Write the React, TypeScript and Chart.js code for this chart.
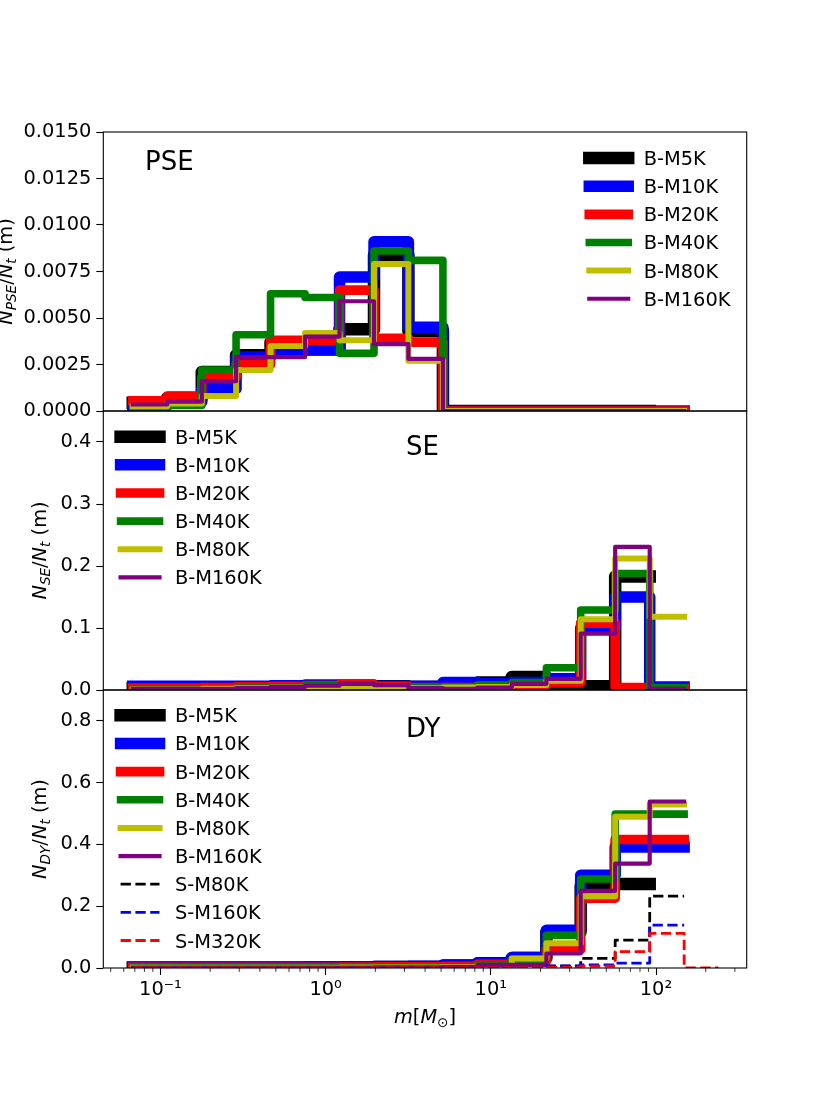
import React, { useEffect, useRef } from 'react';
import Chart from 'chart.js/auto';

// mass bin edges [Msun]; B-M5K stops one bin earlier, S-M320K goes one bin further
const binEdges = [0.068, 0.11, 0.178, 0.287, 0.464, 0.751, 1.214, 1.963, 3.17, 5.13, 8.3, 13.4, 21.7, 35.0, 56.6, 91.6, 148, 239];

const runLabels = ['B-M5K', 'B-M10K', 'B-M20K', 'B-M40K', 'B-M80K', 'B-M160K'];
const singleLabels = ['S-M80K', 'S-M160K', 'S-M320K'];

// PSE fraction per mass bin
const pseM5K = [0.00045, 0.0007, 0.0021, 0.003, 0.0037, 0.0033, 0.0044, 0.0084, 0.0043, 0, 0, 0, 0, 0, 0];
const pseM10K = [0.0003, 0.0005, 0.0012, 0.0029, 0.0033, 0.0033, 0.0072, 0.0091, 0.0045, 0, 0, 0, 0, 0, 0, 0];
const pseM20K = [0.00055, 0.0008, 0.0018, 0.0025, 0.0038, 0.0038, 0.0065, 0.0039, 0.0037, 0, 0, 0, 0, 0, 0, 0];
const pseM40K = [0.0002, 0.0003, 0.0022, 0.0041, 0.0063, 0.0061, 0.0031, 0.0086, 0.0081, 0, 0, 0, 0, 0, 0, 0];
const pseM80K = [0.00025, 0.0004, 0.0008, 0.0022, 0.0035, 0.0042, 0.0038, 0.0079, 0.0027, 0, 0, 0, 0, 0, 0, 0];
const pseM160K = [0.00035, 0.0005, 0.0016, 0.0029, 0.0029, 0.004, 0.0059, 0.0036, 0.0028, 0, 0, 0, 0, 0, 0, 0];

// SE fraction per mass bin
const seM5K = [0.003, 0.003, 0.003, 0.004, 0.005, 0.005, 0.006, 0.006, 0.005, 0.008, 0.012, 0.021, 0.006, 0.006, 0.183];
const seM10K = [0.006, 0.006, 0.006, 0.006, 0.007, 0.008, 0.008, 0.006, 0.006, 0.012, 0.01, 0.012, 0.018, 0.1, 0.15, 0.005];
const seM20K = [0.003, 0.003, 0.004, 0.005, 0.006, 0.007, 0.009, 0.006, 0.004, 0.004, 0.006, 0.008, 0.012, 0.108, 0.004, 0.002];
const seM40K = [0.002, 0.002, 0.002, 0.003, 0.005, 0.007, 0.007, 0.005, 0.004, 0.005, 0.008, 0.012, 0.036, 0.129, 0.188, 0.004];
const seM80K = [0.001, 0.001, 0.002, 0.003, 0.004, 0.005, 0.005, 0.004, 0.003, 0.004, 0.005, 0.008, 0.015, 0.114, 0.212, 0.118];
const seM160K = [0.002, 0.002, 0.002, 0.003, 0.005, 0.007, 0.01, 0.008, 0.003, 0.002, 0.004, 0.01, 0.018, 0.091, 0.231, 0.002];

// DY fraction per mass bin
const dyM5K = [0.001, 0.001, 0.001, 0.001, 0.001, 0.002, 0.002, 0.003, 0.003, 0.008, 0.015, 0.032, 0.118, 0.265, 0.272];
const dyM10K = [0.003, 0.003, 0.003, 0.003, 0.003, 0.003, 0.004, 0.005, 0.006, 0.009, 0.016, 0.034, 0.122, 0.3, 0.392, 0.392];
const dyM20K = [0.002, 0.002, 0.002, 0.002, 0.002, 0.002, 0.003, 0.004, 0.004, 0.005, 0.012, 0.022, 0.06, 0.226, 0.416, 0.416];
const dyM40K = [0.002, 0.002, 0.002, 0.002, 0.002, 0.003, 0.003, 0.003, 0.004, 0.004, 0.01, 0.028, 0.106, 0.288, 0.498, 0.498];
const dyM80K = [0.001, 0.001, 0.001, 0.001, 0.001, 0.001, 0.002, 0.002, 0.002, 0.003, 0.006, 0.031, 0.08, 0.232, 0.49, 0.529];
const dyM160K = [0.001, 0.001, 0.001, 0.001, 0.001, 0.001, 0.001, 0.002, 0.002, 0.004, 0.01, 0.01, 0.047, 0.25, 0.338, 0.539];
const dySM80K = [0.001, 0.001, 0.001, 0.001, 0.001, 0.001, 0.001, 0.001, 0.001, 0.001, 0.001, 0.001, 0.006, 0.031, 0.09, 0.233];
const dySM160K = [0.001, 0.001, 0.001, 0.001, 0.001, 0.001, 0.001, 0.001, 0.001, 0.001, 0.001, 0.001, 0.007, 0.01, 0.016, 0.139];
const dySM320K = [0.001, 0.001, 0.001, 0.001, 0.001, 0.001, 0.001, 0.001, 0.001, 0.001, 0.001, 0.001, 0.002, 0.006, 0.053, 0.112, 0];

const pseTicks = [0, 0.0025, 0.005, 0.0075, 0.01, 0.0125, 0.015];
const seTicks = [0, 0.1, 0.2, 0.3, 0.4];
const dyTicks = [0, 0.2, 0.4, 0.6, 0.8];
const massTicks = [0.1, 1, 10, 100];
const massTickLabels = ['10⁻¹', '10⁰', '10¹', '10²'];
const massMinorTicks = [0.05, 0.06, 0.07, 0.08, 0.09, 0.2, 0.3, 0.4, 0.5, 0.6, 0.7, 0.8, 0.9,
  2, 3, 4, 5, 6, 7, 8, 9, 20, 30, 40, 50, 60, 70, 80, 90, 200, 300];

const runColors = ['#000000', '#0000ff', '#ff0000', '#008000', '#bfbf00', '#800080'];
const runWidths = [12.5, 11.5, 9.7, 7.6, 6, 4.2];
const singleColors = ['#000000', '#0000ff', '#ff0000'];

const FONT = '"DejaVu Sans"';
const PAGE_W = 830;
const AXIS_LEFT = 103.3;
const AXIS_RIGHT = 746.7;

// step outline: each value holds from its left edge to the next edge
const steps = (values: number[]) => {
  const pts = values.map((v, i) => ({ x: binEdges[i], y: v }));
  pts.push({ x: binEdges[values.length], y: values[values.length - 1] });
  return pts;
};

const runSet = (values: number[], i: number) => ({
  label: runLabels[i],
  data: steps(values),
  borderColor: runColors[i],
  borderWidth: runWidths[i],
  borderCapStyle: 'square',
  borderJoinStyle: 'round',
  stepped: true,
  pointRadius: 0,
  fill: false,
  clip: 0,
  order: 20 - i,
});

const singleSet = (values: number[], j: number) => ({
  label: singleLabels[j],
  data: steps(values),
  borderColor: singleColors[j],
  borderWidth: 2.8,
  borderDash: [10.3, 4.5],
  borderCapStyle: 'butt',
  borderJoinStyle: 'round',
  stepped: true,
  pointRadius: 0,
  fill: false,
  clip: 0,
  order: 10 - j,
});

type Piece = { t: string; it?: boolean; sub?: boolean };

const mathFont = (p: Piece, size: number) => `${p.it ? 'italic ' : ''}${p.sub ? size * 0.7 : size}px ${FONT}`;

// tiny mathtext stand-in: italic letters, lowered subscripts, centred on cx
function drawMath(ctx: CanvasRenderingContext2D, pieces: Piece[], cx: number, baseY: number, size: number) {
  const widths = pieces.map(p => {
    ctx.font = mathFont(p, size);
    return ctx.measureText(p.t).width;
  });
  let x = cx - widths.reduce((s, w) => s + w, 0) / 2;
  ctx.textAlign = 'left';
  ctx.textBaseline = 'alphabetic';
  pieces.forEach((p, i) => {
    ctx.font = mathFont(p, size);
    ctx.fillText(p.t, x, baseY + (p.sub ? size * 0.2 : 0));
    x += widths[i];
  });
}

type Decor = {
  top: number;
  name: string;
  nameX: number;
  nameY: number;
  legendX: number;
  legendY: number;
  yTitle: Piece[];
  yTitleX: number;
  bottom?: boolean;
};

const panelDecor = (cfg: Decor) => ({
  id: 'panelDecor',
  afterDraw(chart: any) {
    const { ctx, chartArea: a } = chart;
    ctx.save();
    ctx.translate(0, -cfg.top);
    const top = a.top + cfg.top;
    const bottom = a.bottom + cfg.top;

    ctx.strokeStyle = '#000';
    ctx.lineWidth = 1.1;
    ctx.strokeRect(a.left, top, a.right - a.left, bottom - top);

    ctx.fillStyle = '#000';
    ctx.font = `26px ${FONT}`;
    ctx.textAlign = 'left';
    ctx.textBaseline = 'alphabetic';
    ctx.fillText(cfg.name, cfg.nameX, cfg.nameY);

    chart.data.datasets.forEach((ds: any, k: number) => {
      const y = cfg.legendY + k * 28.15;
      ctx.beginPath();
      ctx.setLineDash(ds.borderDash || []);
      ctx.lineCap = ds.borderCapStyle;
      ctx.lineWidth = ds.borderWidth;
      ctx.strokeStyle = ds.borderColor;
      ctx.moveTo(cfg.legendX, y);
      ctx.lineTo(cfg.legendX + 38.9, y);
      ctx.stroke();
      ctx.setLineDash([]);
      ctx.font = `19.4px ${FONT}`;
      ctx.fillText(ds.label, cfg.legendX + 54.4, y + 7);
    });

    if (cfg.bottom) {
      const xs = chart.scales.x;
      ctx.beginPath();
      ctx.lineWidth = 0.8;
      ctx.strokeStyle = '#000';
      massMinorTicks.forEach(v => {
        const px = xs.getPixelForValue(v);
        ctx.moveTo(px, bottom);
        ctx.lineTo(px, bottom + 3.9);
      });
      ctx.stroke();
      drawMath(ctx, [{ t: 'm', it: true }, { t: '[' }, { t: 'M', it: true }, { t: '⊙', sub: true }, { t: ']' }],
        (a.left + a.right) / 2, 1023, 19.4);
    }

    ctx.translate(cfg.yTitleX, (top + bottom) / 2);
    ctx.rotate(-Math.PI / 2);
    drawMath(ctx, cfg.yTitle, 0, 0, 19.4);
    ctx.restore();
  },
});

const makeChart = (
  canvas: HTMLCanvasElement,
  datasets: any[],
  yMax: number,
  yTicks: number[],
  digits: number,
  padding: { top: number; bottom: number },
  decor: Decor,
) => {
  const bottom = !!decor.bottom;
  return new Chart(canvas, {
    type: 'line',
    data: { datasets },
    options: {
      responsive: false,
      animation: false,
      events: [],
      layout: {
        autoPadding: false,
        padding: { left: 0, right: PAGE_W - AXIS_RIGHT, top: padding.top, bottom: padding.bottom },
      },
      plugins: { legend: { display: false }, tooltip: { enabled: false } },
      scales: {
        x: {
          type: 'logarithmic',
          min: 0.0451,
          max: 354,
          bounds: 'data',
          display: bottom,
          border: { display: false },
          grid: { drawOnChartArea: false, drawTicks: true, tickLength: 7, tickWidth: 1.1, tickColor: '#000' },
          ticks: {
            autoSkip: false,
            maxRotation: 0,
            padding: 3,
            color: '#000',
            font: { family: 'DejaVu Sans', size: 19.4 },
            callback: (v: any) => {
              const i = massTicks.indexOf(Number(v));
              return i >= 0 ? massTickLabels[i] : '';
            },
          },
          afterBuildTicks: (s: any) => {
            s.ticks = massTicks.map(v => ({ value: v }));
          },
          afterFit: (s: any) => {
            if (bottom) s.height = 139;
          },
        },
        y: {
          type: 'linear',
          min: 0,
          max: yMax,
          bounds: 'data',
          border: { display: false },
          grid: { drawOnChartArea: false, drawTicks: true, tickLength: 7, tickWidth: 1.1, tickColor: '#000' },
          ticks: {
            autoSkip: false,
            padding: 5,
            color: '#000',
            font: { family: 'DejaVu Sans', size: 19.4 },
            callback: (v: any) => Number(v).toFixed(digits),
          },
          afterBuildTicks: (s: any) => {
            s.ticks = yTicks.map(v => ({ value: v }));
          },
          afterFit: (s: any) => {
            s.width = AXIS_LEFT;
          },
        },
      },
    } as any,
    plugins: [panelDecor(decor)],
  });
};

// canvases overlap a little so the y scales never need extra room at their ends
const PANELS = [
  { top: 100, height: 335 },
  { top: 385, height: 330 },
  { top: 665, height: 442 },
];

export default function App() {
  const pseRef = useRef<HTMLCanvasElement>(null);
  const seRef = useRef<HTMLCanvasElement>(null);
  const dyRef = useRef<HTMLCanvasElement>(null);

  useEffect(() => {
    const charts: Chart[] = [];
    if (pseRef.current) {
      charts.push(makeChart(
        pseRef.current,
        [pseM5K, pseM10K, pseM20K, pseM40K, pseM80K, pseM160K].map(runSet),
        0.015, pseTicks, 4, { top: 32, bottom: 24 },
        {
          top: PANELS[0].top, name: 'PSE', nameX: 145, nameY: 170, legendX: 589.3, legendY: 158,
          yTitle: [{ t: 'N', it: true }, { t: 'PSE', it: true, sub: true }, { t: '/' }, { t: 'N', it: true }, { t: 't', it: true, sub: true }, { t: ' (m)' }],
          yTitleX: 12,
        },
      ));
    }
    if (seRef.current) {
      charts.push(makeChart(
        seRef.current,
        [seM5K, seM10K, seM20K, seM40K, seM80K, seM160K].map(runSet),
        0.45, seTicks, 1, { top: 26, bottom: 25 },
        {
          top: PANELS[1].top, name: 'SE', nameX: 406, nameY: 455, legendX: 120.6, legendY: 436.7,
          yTitle: [{ t: 'N', it: true }, { t: 'SE', it: true, sub: true }, { t: '/' }, { t: 'N', it: true }, { t: 't', it: true, sub: true }, { t: ' (m)' }],
          yTitleX: 46,
        },
      ));
    }
    if (dyRef.current) {
      charts.push(makeChart(
        dyRef.current,
        [
          ...[dyM5K, dyM10K, dyM20K, dyM40K, dyM80K, dyM160K].map(runSet),
          ...[dySM80K, dySM160K, dySM320K].map(singleSet),
        ],
        0.9, dyTicks, 1, { top: 25, bottom: 0 },
        {
          top: PANELS[2].top, name: 'DY', nameX: 406, nameY: 737, legendX: 120.6, legendY: 715.3,
          yTitle: [{ t: 'N', it: true }, { t: 'DY', it: true, sub: true }, { t: '/' }, { t: 'N', it: true }, { t: 't', it: true, sub: true }, { t: ' (m)' }],
          yTitleX: 46, bottom: true,
        },
      ));
    }
    return () => charts.forEach(c => c.destroy());
  }, []);

  const refs = [pseRef, seRef, dyRef];
  return (
    <div style={{ position: 'absolute', left: 0, top: 0, width: PAGE_W, height: 1107, background: '#fff' }}>
      {PANELS.map((p, i) => (
        <canvas
          key={i}
          ref={refs[i]}
          width={PAGE_W}
          height={p.height}
          style={{ position: 'absolute', left: 0, top: p.top, display: 'block' }}
        />
      ))}
    </div>
  );
}
